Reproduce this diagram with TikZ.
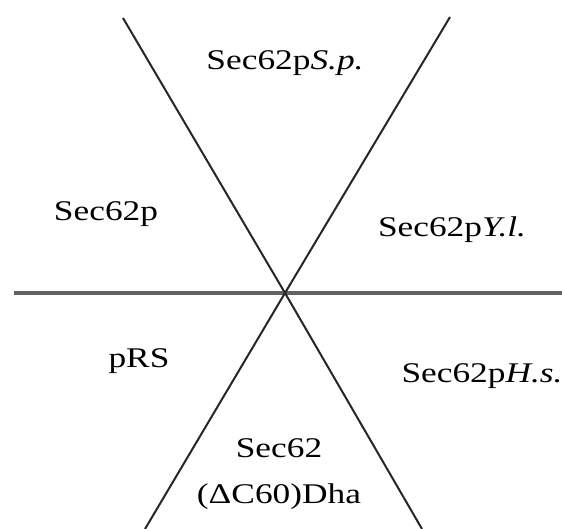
\documentclass[tikz,border=0pt]{standalone}
\usepackage{fontspec}
\setmainfont{Liberation Serif}[FakeStretch=1.24]
\begin{document}
\begin{tikzpicture}[x=1pt,y=-1pt,
  lbl/.style={font=\fontsize{28.5}{46}\selectfont, inner sep=0pt, anchor=base},
  diag/.style={line width=2pt, black!85},
  horiz/.style={line width=3.4pt, black!62}]
\useasboundingbox (0,0) rectangle (562,529);
\coordinate (c) at (285,293);
\coordinate (a1) at (123,18);
\coordinate (a2) at (422,529);
\coordinate (b1) at (450,17);
\coordinate (b2) at (145,529);
\coordinate (h1) at (14,293);
\coordinate (h2) at (562,293);
\draw[horiz] (h1) -- (h2);
\draw[diag] (a1) -- (c) -- (a2);
\draw[diag] (b1) -- (c) -- (b2);
\node[lbl] (sp) at (285,70) {Sec62p\textit{S.p.}};
\node[lbl] (yl) at (452,237) {Sec62p\textit{Y.l.}};
\node[lbl] (hs) at (482,382) {Sec62p\textit{H.s.}};
\node[lbl] (sc) at (106,221) {Sec62p};
\node[lbl] (prs) at (139,367) {pRS};
\node[lbl, align=center] (dha) at (279,503) {Sec62\\(ΔC60)Dha};
\end{tikzpicture}
\end{document}
